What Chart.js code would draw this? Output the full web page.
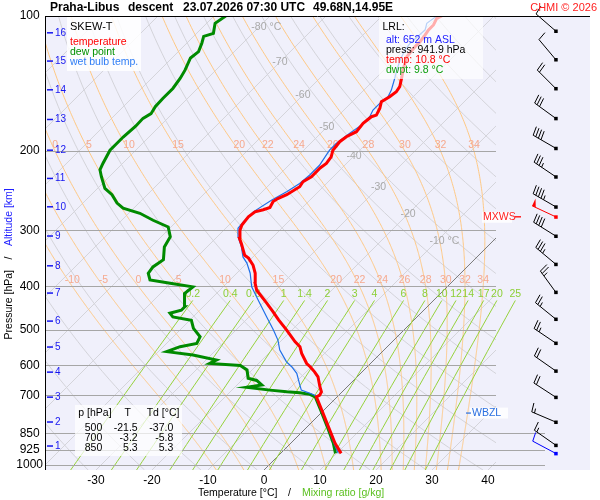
<!DOCTYPE html>
<html><head><meta charset="utf-8">
<script src="https://cdn.jsdelivr.net/npm/chart.js@4.4.1/dist/chart.umd.min.js"></script>
<style>html,body{margin:0;padding:0;background:#fff;}</style>
</head><body>
<canvas id="c" width="600" height="500"></canvas>
<script>
// ---------------- data ----------------
const tempP = [941.9,894,822,754,705,699,687,669,636,620,604,594,564,545,531,500,475,456,436,408,394,374,359,346,341,321,313,300,292,280,273,270,267,259,255,250,240,234,228,218,213,206,199,190.5,185.7,181,173.4,167.6,166.2,160.5,155.2,151.3,147.5,143.7,136.5,131.9,123.2,117,114.1,110.2,107.4,104.7,101.2,100];
const tempT = [10.8,7.9,3.8,-0.4,-3.7,-3.4,-3.7,-4.9,-7.0,-8.5,-10.2,-11.4,-14.1,-15.6,-17.4,-21.0,-24.2,-26.6,-29.3,-33.4,-34.9,-36.7,-38.5,-40.6,-41.8,-44.5,-45.7,-47.1,-47.7,-48.0,-47.7,-46.6,-45.8,-46.3,-46.0,-45.1,-44.2,-44.5,-43.9,-43.9,-43.6,-43.9,-44.8,-45.1,-44.8,-43.9,-44.2,-43.9,-43.3,-43.9,-44.8,-44.2,-43.9,-44.2,-45.6,-46.6,-48.3,-48.6,-48.6,-48.9,-49.2,-49.2,-49.8,-49.3];
const dewP = [941.9,894,822,754,705,696,690,687,681,671,663,648,641,614,600,594,584,569,559,545,536,518,496,476,468,459,452,444,415,401,394,387,374,362,349,327,310,295,285,275,268,261,250,242,228,220,213,199,194,186,176,169,165,159,152.5,145,137.6,132,124,120,115,111,109.3,103.8,100];
const dewT = [9.8,7.6,3.6,-0.6,-3.9,-5.3,-7.4,-9.9,-13.2,-17.9,-15.6,-17.3,-19.2,-20.9,-22.9,-28.7,-28.1,-33.2,-38.5,-37.0,-34.6,-35.2,-37.9,-39.7,-43.6,-44.8,-43.3,-43.3,-45.7,-45.4,-49.8,-54.3,-55.8,-56.1,-55.5,-57.6,-58.4,-60.5,-64.4,-68.0,-71.9,-73.9,-76.3,-78.7,-81.4,-82.9,-83.5,-84.6,-84.6,-84.6,-84.3,-84.4,-83.8,-84.3,-84.4,-84.4,-84.9,-85.5,-86.7,-86.4,-87.3,-88.2,-87.0,-88.5,-87.9];
const wetP = [941.9,894,822,754,705,699,692,681,663,625,604,589,554.5,527,500.5,467.5,429,401,374,355,344,326.5,310,297,287,273,257,246,236,226,215,199,192,182.5,175,167.6,162,156.5,151.3,146.2,137.6,131.9,125.3,119.1,115,107.4,103.8,100];
const wetT = [10.3,7.7,3.7,-0.5,-3.7,-4.3,-5.5,-7.6,-8.8,-11.4,-13.5,-15.3,-18.6,-20.7,-23.3,-26.9,-31.4,-34.9,-37.6,-40.0,-41.8,-43.9,-46.3,-47.8,-48.0,-48.0,-46.8,-45.6,-44.8,-44.5,-44.5,-45.4,-45.4,-44.8,-44.2,-44.2,-44.8,-44.8,-44.5,-45.1,-46.6,-47.7,-48.9,-49.8,-50.1,-49.8,-50.7,-50.2];

const pressureTicks = [100,200,300,400,500,600,700,850,925,1000];
const tempTicks = [-30,-20,-10,0,10,20,30,40];
const kmLevels = [1,2,3,4,5,6,7,8,9,10,11,12,13,14,15,16];
const kmPres = [907,802,706,621,546,478,414,360,309,266,230,199,170,146,126,109];

const windP   = [108,125,145,169,197,228,266,309,357,412,473,535,617,706,802,903];
const windDir = [311,320,315,306,300,304,300,302,310,324,309,304,305,303,293,305];
const windSpd = [10,10,20,30,40,35,45,40,35,25,25,25,20,20,15,15];
const mxwsP = 280, mxwsDir = 295, mxwsSpd = 50;
const lrlP = 941.9, lrlDir = 298, lrlSpd = 10, lrlAlt = 652, lrlTemp = 10.8, lrlDwpt = 9.8;
const wbzlP = 766;

const tableP  = [500,700,850];
const tableT  = [-21.5,-3.2,5.3];
const tableTd = [-37.0,-5.8,5.3];

const isoLabelT = [-80,-70,-60,-50,-40,-30,-20,-10];
const isoLabelP = [105.8,126.6,150,176.8,204.9,240.8,276,317];
const moistTheta = [-10,-5,0,5,10,15,20,22,24,26,28,30,32,34];
const moistLabelP = [200,400];
const mixRatios = [0.2,0.4,0.6,1,1.4,2,3,4,6,8,10,12,14,17,20,25];

// ---------------- geometry of the skew ----------------
const PBOT = 1025.7, SKEW = 80.18;
const XMIN = (45-264)/5.6, XMAX = (590-264)/5.6;
const DIAG_RIGHT = 496;
const sx = (T,p) => T + SKEW*Math.log10(PBOT/p);
const toXY = (P,T) => P.map((p,i)=>({x:sx(T[i],p), y:p}));

const FONT = '"Liberation Sans", Arial, sans-serif';

function moistPath(thw){
  const Rd=287.04, cp=1005.7, Lv=2.501e6, eps=0.622;
  const es=Tc=>6.112*Math.exp(17.67*Tc/(Tc+243.5));
  const f=(p,Tk)=>{const e=es(Tk-273.15); const rs=eps*e/(p-e); return (Rd*Tk+Lv*rs)/(p*(cp+Lv*Lv*rs*eps/(Rd*Tk*Tk)));};
  let T=thw+273.15, p=1000;
  const dp1=PBOT-1000;
  let k1=f(p,T), k2=f(p+dp1/2,T+k1*dp1/2);
  const out=[[PBOT,T+k2*dp1-273.15],[1000,T-273.15]];
  const dp=-2;
  while(p>100.01){ k1=f(p,T); k2=f(p+dp/2,T+k1*dp/2); T+=k2*dp; p+=dp; out.push([p,T-273.15]); }
  return out;
}
const moistPaths = moistTheta.map(moistPath);
function pathT(path,p){
  for(let i=1;i<path.length;i++){ if(path[i][0]<=p){ const a=path[i-1],b=path[i]; const t=(a[0]-p)/(a[0]-b[0]); return a[1]+t*(b[1]-a[1]); } }
  return path[path.length-1][1];
}
function mixT(w,p){ const e=w*p/(622+w); const l=Math.log(e/6.112); return 243.5*l/(17.67-l); }

function drawBarb(ctx,x0,y0,dir,spd,color){
  const L=26, r=dir*Math.PI/180, dx=Math.sin(r), dy=-Math.cos(r);
  const px=-dy, py=dx;
  const ex=x0+dx*L, ey=y0+dy*L;
  ctx.strokeStyle=color; ctx.fillStyle=color; ctx.lineWidth=1;
  ctx.beginPath(); ctx.moveTo(x0,y0); ctx.lineTo(ex,ey); ctx.stroke();
  let s=Math.round(spd/5)*5, pos=0;
  while(s>=50){ const bx=ex-dx*pos, by=ey-dy*pos;
    ctx.beginPath(); ctx.moveTo(bx,by); ctx.lineTo(bx+px*8,by+py*8); ctx.lineTo(bx-dx*4,by-dy*4); ctx.closePath(); ctx.fill(); pos+=5; s-=50; }
  while(s>=10){ const bx=ex-dx*pos, by=ey-dy*pos;
    ctx.beginPath(); ctx.moveTo(bx,by); ctx.lineTo(bx+px*9+dx*1.5,by+py*9+dy*1.5); ctx.stroke(); pos+=3; s-=10; }
  if(s>=5){ if(pos===0) pos=3; const bx=ex-dx*pos, by=ey-dy*pos;
    ctx.beginPath(); ctx.moveTo(bx,by); ctx.lineTo(bx+px*4.5+dx*0.8,by+py*4.5+dy*0.8); ctx.stroke(); }
  ctx.fillRect(x0-1.5,y0-1.5,3.5,3.5);
}

const skewPlugin = {
  id:'skewbg',
  beforeDatasetsDraw(chart){
    const {ctx, chartArea:a, scales:{x:xs,y:ys}} = chart;
    const X=(T,p)=>xs.getPixelForValue(sx(T,p)), Y=p=>ys.getPixelForValue(p);
    ctx.save();
    ctx.fillStyle='#f0f0fb'; ctx.fillRect(a.left,a.top,a.right-a.left,a.bottom-a.top);
    ctx.save(); ctx.beginPath(); ctx.rect(a.left,a.top,DIAG_RIGHT-a.left,a.bottom-a.top); ctx.clip();
    ctx.lineWidth=1;
    // isotherms
    ctx.strokeStyle='#d4d4da';
    for(let T=-150;T<=60;T+=10){ if(T===0) continue; ctx.beginPath(); ctx.moveTo(X(T,PBOT),Y(PBOT)); ctx.lineTo(X(T,100),Y(100)); ctx.stroke(); }
    // dry adiabats
    for(let th=230; th<=480; th+=10){ ctx.beginPath();
      for(let i=0;i<=60;i++){ const p=PBOT*Math.pow(100/PBOT,i/60); const T=th*Math.pow(p/1000,0.2857)-273.15;
        if(i) ctx.lineTo(X(T,p),Y(p)); else ctx.moveTo(X(T,p),Y(p)); }
      ctx.stroke(); }
    // moist adiabats
    ctx.strokeStyle='#ffc985';
    moistPaths.forEach(path=>{ ctx.beginPath(); path.forEach((q,i)=>{ if(i) ctx.lineTo(X(q[1],q[0]),Y(q[0])); else ctx.moveTo(X(q[1],q[0]),Y(q[0])); }); ctx.stroke(); });
    // 0 C isotherm
    ctx.strokeStyle='#7a7a7a';
    ctx.beginPath(); ctx.moveTo(X(0,PBOT),Y(PBOT)); ctx.lineTo(X(0,100),Y(100)); ctx.stroke();
    ctx.restore();
    // mixing ratio lines
    ctx.save(); ctx.beginPath(); ctx.rect(a.left,a.top,a.right-a.left,a.bottom-a.top); ctx.clip();
    ctx.strokeStyle='#96d23c'; ctx.lineWidth=1;
    const pTop=430;
    mixRatios.forEach(w=>{ ctx.beginPath();
      for(let i=0;i<=20;i++){ const p=PBOT*Math.pow(pTop/PBOT,i/20); const T=mixT(w,p);
        if(i) ctx.lineTo(X(T,p),Y(p)); else ctx.moveTo(X(T,p),Y(p)); }
      ctx.stroke(); });
    ctx.restore();
    // pressure lines
    ctx.strokeStyle='#a6a6a6'; ctx.lineWidth=1;
    pressureTicks.forEach(p=>{ if(p===100) return; const y=Math.round(Y(p))+0.5; const xr = p>=850 ? 545 : DIAG_RIGHT;
      ctx.beginPath(); ctx.moveTo(a.left,y); ctx.lineTo(xr,y); ctx.stroke(); });
    // labels
    ctx.font='10.5px '+FONT; ctx.textBaseline='middle';
    ctx.fillStyle='#a9a9a9';
    isoLabelT.forEach((T,i)=>{ const p=isoLabelP[i]; const s=String(T); const w=ctx.measureText(s).width;
      const x=X(T,p), y=Y(p); ctx.textAlign='left'; ctx.fillText(s,x-w/2,y);
      if(i===0||i===isoLabelT.length-1) ctx.fillText(' °C',x+w/2,y); });
    ctx.fillStyle='#f6a98e'; ctx.textAlign='center';
    moistLabelP.forEach(p=>{ moistTheta.forEach((th,i)=>{ let x=X(pathT(moistPaths[i],p),p);
      if(x>=43 && x<50) x=52;
      if(x>=50 && x<=DIAG_RIGHT) ctx.fillText(String(th),x,Y(p)-6); }); });
    ctx.fillStyle='#8ccf36';
    mixRatios.forEach(w=>{ ctx.fillText(String(w),X(mixT(w,pTop),pTop),Y(pTop)-6); });
    ctx.restore();
  },
  afterDatasetsDraw(chart){
    const {ctx, chartArea:a, scales:{x:xs,y:ys}} = chart;
    const Y=p=>ys.getPixelForValue(p);
    ctx.save();
    // axes lines
    ctx.strokeStyle='#000'; ctx.lineWidth=1;
    ctx.beginPath(); ctx.moveTo(a.left,a.top+0.5); ctx.lineTo(a.right,a.top+0.5); ctx.stroke();
    ctx.beginPath(); ctx.moveTo(a.left+0.5,a.top); ctx.lineTo(a.left+0.5,a.bottom); ctx.stroke();
    // altitude ticks
    ctx.font='10px '+FONT; ctx.textBaseline='middle'; ctx.textAlign='left';
    kmLevels.forEach((km,i)=>{ const y=Y(kmPres[i]);
      ctx.strokeStyle='#1515f0'; ctx.lineWidth=1.5; ctx.beginPath(); ctx.moveTo(47,y); ctx.lineTo(53,y); ctx.stroke();
      ctx.fillStyle='#1515f0'; ctx.fillText(String(km),55,y); });
    // boxes
    ctx.font='10.5px '+FONT;
    ctx.fillStyle='rgba(255,255,255,0.85)'; ctx.fillRect(67,17,74,54);
    ctx.fillStyle='#000'; ctx.font='11px '+FONT; ctx.fillText('SKEW-T',70,26.5);
    ctx.font='10.5px '+FONT;
    ctx.fillStyle='#ff0000'; ctx.fillText('temperature',70,42);
    ctx.fillStyle='#009000'; ctx.fillText('dew point',70,51.7);
    ctx.fillStyle='#2f7df5'; ctx.fillText('wet bulb temp.',70,62);
    // LRL
    ctx.fillStyle='rgba(255,255,255,0.68)'; ctx.fillRect(379,17,104,62);
    ctx.fillStyle='#000'; ctx.fillText('LRL:',382.5,27);
    ctx.fillStyle='#2020ff'; ctx.fillText('alt: '+lrlAlt+' m ASL',386,40);
    ctx.fillStyle='#000'; ctx.fillText('press: '+lrlP.toFixed(1)+' hPa',386,50.5);
    ctx.fillStyle='#ff0000'; ctx.fillText('temp: '+lrlTemp.toFixed(1)+' °C',386,60);
    ctx.fillStyle='#10a010'; ctx.fillText('dwpt: '+lrlDwpt.toFixed(1)+' °C',386,70);
    // table
    ctx.fillStyle='rgba(255,255,255,0.72)'; ctx.fillRect(75,405,107,51);
    ctx.fillStyle='#000';
    ctx.fillText('p [hPa]',78.3,413.3); ctx.textAlign='center'; ctx.fillText('T',127.7,413.3);
    ctx.textAlign='left'; ctx.fillText('Td [°C]',146.7,413.3);
    ctx.textAlign='right';
    tableP.forEach((p,i)=>{ const y=428.3+i*9.7; ctx.fillText(String(p),102.3,y); ctx.fillText(tableT[i].toFixed(1),137.7,y); ctx.fillText(tableTd[i].toFixed(1),173.3,y); });
    // wind barbs
    const bx=555.7;
    windP.forEach((p,i)=>drawBarb(ctx,bx,Y(p),windDir[i],windSpd[i],'#000'));
    drawBarb(ctx,bx,Y(mxwsP),mxwsDir,mxwsSpd,'#ff0000');
    drawBarb(ctx,bx,Y(lrlP),lrlDir,lrlSpd,'#0000ff');
    // MXWS label
    const ym=Y(mxwsP);
    ctx.fillStyle='rgba(255,255,255,0.85)'; ctx.fillRect(482,ym-5,30,11);
    ctx.fillStyle='#ff2020'; ctx.textAlign='left'; ctx.fillText('MXWS',483,ym);
    ctx.strokeStyle='#ff2020'; ctx.lineWidth=1.5; ctx.beginPath(); ctx.moveTo(515,ym); ctx.lineTo(521,ym); ctx.stroke();
    // WBZL label
    const yw=Y(wbzlP);
    ctx.fillStyle='rgba(255,255,255,0.85)'; ctx.fillRect(470,yw-5.5,38,11);
    ctx.strokeStyle='#2a6fe0'; ctx.lineWidth=1.2; ctx.beginPath(); ctx.moveTo(466,yw); ctx.lineTo(471,yw); ctx.stroke();
    ctx.fillStyle='#2a6fe0'; ctx.fillText('WBZL',472,yw);
    // title
    ctx.fillStyle='#000'; ctx.font='bold 12px '+FONT; ctx.textAlign='left';
    ctx.fillText('Praha-Libus',50,7.5); ctx.fillText('descent',128,7.5);
    ctx.fillText('23.07.2026 07:30 UTC',183,7.5); ctx.fillText('49.68N,14.95E',313,7.5);
    ctx.font='11px '+FONT; ctx.fillStyle='#ff2020'; ctx.textAlign='right'; ctx.fillText('CHMI © 2026',597,7.5);
    // x title
    ctx.font='10.5px '+FONT; ctx.textAlign='left'; ctx.fillStyle='#000';
    ctx.fillText('Temperature [°C]',198,493); ctx.fillText('/',288,493);
    ctx.fillStyle='#5cc021'; ctx.fillText('Mixing ratio [g/kg]',302,493);
    // y title
    ctx.save(); ctx.translate(9,258); ctx.rotate(-Math.PI/2);
    ctx.fillStyle='#000'; ctx.textAlign='center'; ctx.fillText('/',0,0);
    ctx.textAlign='right'; ctx.fillText('Pressure [hPa]',-12,0);
    ctx.fillStyle='#2020ff'; ctx.textAlign='left'; ctx.fillText('Altitude [km]',12,0);
    ctx.restore();
    ctx.restore();
  }
};

Chart.defaults.font.family = FONT;
new Chart(document.getElementById('c'), {
  type:'scatter',
  data:{datasets:[
    {label:'temperature', data:toXY(tempP,tempT), showLine:true, borderColor:'#ff0000', backgroundColor:'#ff0000', borderWidth:3, pointRadius:0, tension:0},
    {label:'wet bulb temp.', data:toXY(wetP,wetT), showLine:true, borderColor:'#1f6fe8', backgroundColor:'#1f6fe8', borderWidth:1.2, pointRadius:0, tension:0},
    {label:'dew point', data:toXY(dewP,dewT), showLine:true, borderColor:'#008a00', backgroundColor:'#008a00', borderWidth:3, pointRadius:0, tension:0}
  ]},
  options:{
    responsive:false, animation:false, devicePixelRatio:1,
    layout:{padding:{left:0,right:10,top:16,bottom:0}},
    plugins:{legend:{display:false}, tooltip:{enabled:false}, title:{display:false}},
    scales:{
      x:{type:'linear', position:'bottom', min:XMIN, max:XMAX,
        afterBuildTicks:s=>{ s.ticks = tempTicks.map(v=>({value:v})); },
        afterFit:s=>{ s.height=30; },
        grid:{display:false, drawTicks:false}, border:{display:false},
        ticks:{padding:3, color:'#000', font:{size:12}, maxRotation:0, autoSkip:false, callback:v=>String(v)}},
      y:{type:'logarithmic', position:'left', reverse:true, min:100, max:PBOT,
        afterBuildTicks:s=>{ s.ticks = pressureTicks.map(v=>({value:v})); },
        afterFit:s=>{ s.width=45; },
        grid:{display:false, drawTicks:false}, border:{display:false},
        ticks:{padding:2, crossAlign:'center', color:'#000', font:{size:12}, autoSkip:false, callback:v=>String(v)}}
    }
  },
  plugins:[skewPlugin]
});
</script>
</body></html>
